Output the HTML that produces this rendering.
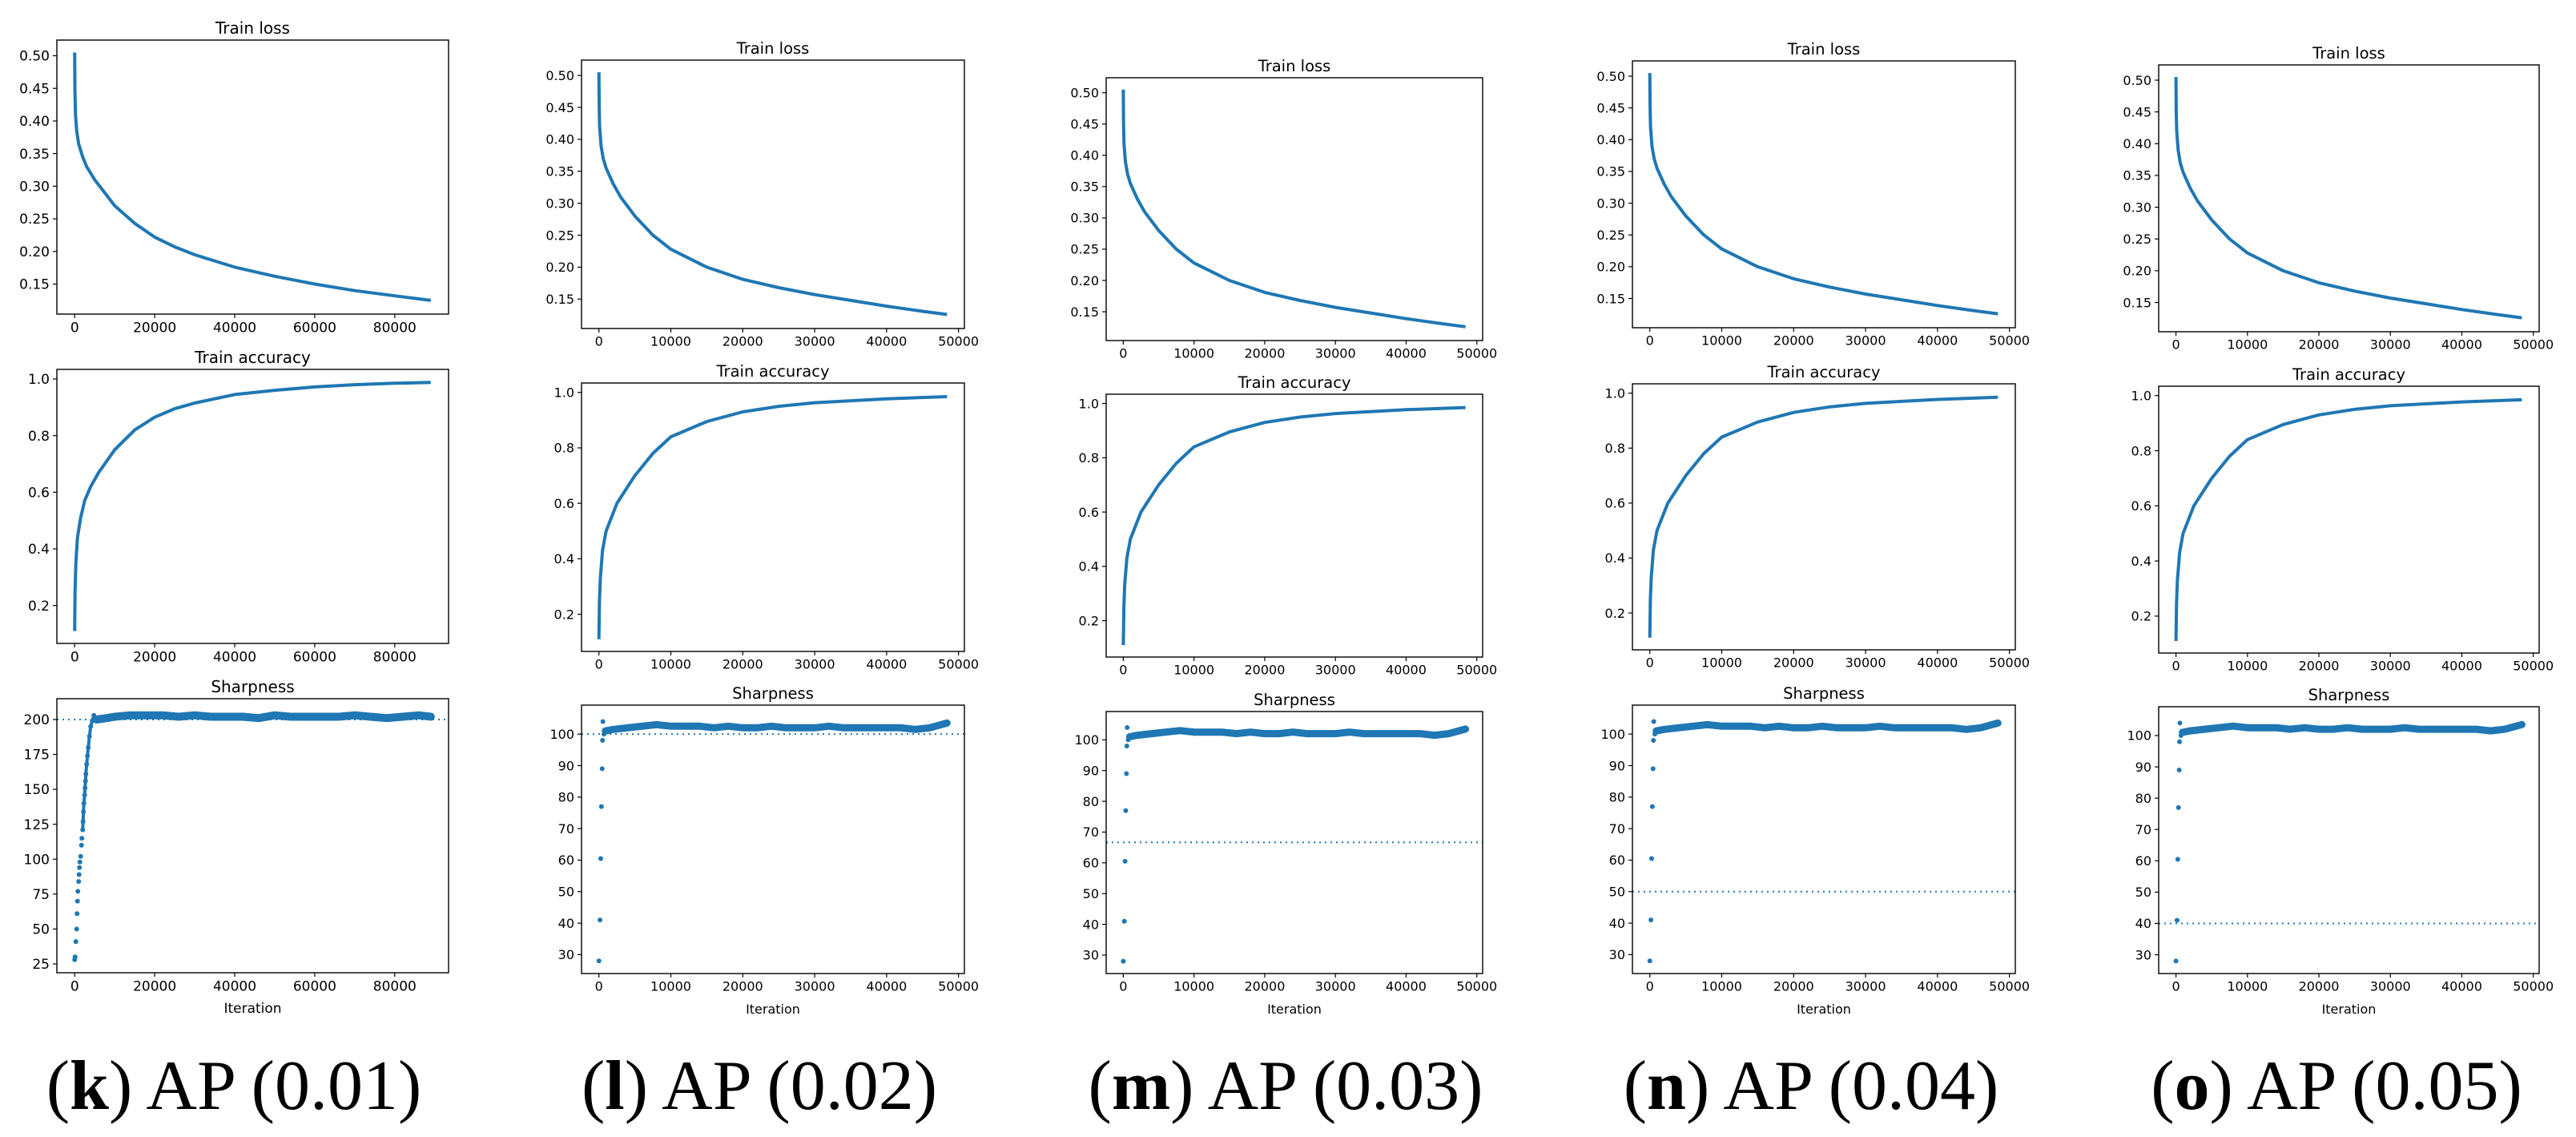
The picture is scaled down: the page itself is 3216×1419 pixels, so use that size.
<!DOCTYPE html>
<html><head><meta charset="utf-8"><style>
html,body{margin:0;padding:0;background:#fff;}
svg{display:block;}
</style></head><body>
<svg id="fig" xmlns="http://www.w3.org/2000/svg" width="3216" height="1419" viewBox="0 0 3216 1419"></svg>
<script>
// ---------- data ----------
const lossIterK = [0, 60, 200, 500, 1000, 2000, 3000, 5000, 7500, 10000, 15000, 20000, 25000, 30000, 40000, 50000, 60000, 70000, 80000, 89000];
const lossK     = [0.505, 0.45, 0.41, 0.385, 0.365, 0.345, 0.33, 0.31, 0.29, 0.27, 0.243, 0.222, 0.207, 0.195, 0.176, 0.162, 0.15, 0.14, 0.132, 0.125];
const lossIter48 = [0, 40, 100, 300, 600, 1000, 2000, 3000, 5000, 7500, 10000, 15000, 20000, 25000, 30000, 35000, 40000, 45000, 48400];
const loss48     = [0.505, 0.45, 0.42, 0.39, 0.37, 0.355, 0.33, 0.31, 0.28, 0.25, 0.228, 0.2, 0.181, 0.168, 0.157, 0.148, 0.139, 0.131, 0.126];
const accIterK = [0, 100, 300, 700, 1500, 2500, 4000, 6000, 8000, 10000, 15000, 20000, 25000, 30000, 40000, 50000, 60000, 70000, 80000, 89000];
const accK     = [0.11, 0.25, 0.35, 0.44, 0.51, 0.57, 0.62, 0.67, 0.71, 0.75, 0.82, 0.865, 0.895, 0.915, 0.945, 0.96, 0.972, 0.98, 0.985, 0.988];
const accIter48 = [0, 80, 200, 500, 1000, 2500, 5000, 7500, 10000, 15000, 20000, 25000, 30000, 40000, 48400];
const acc48     = [0.11, 0.25, 0.33, 0.43, 0.5, 0.6, 0.7, 0.78, 0.84, 0.895, 0.93, 0.95, 0.963, 0.977, 0.985];
const sharpRampIterK = [0, 100, 300, 500, 600, 700, 800, 1000, 1100, 1200, 1300, 1500, 1700, 1800, 2000, 2100, 2200, 2300, 2500, 2600, 2700, 2800, 3000, 3200, 3400, 3700, 4000, 4400, 4800];
const sharpRampK     = [28, 30, 41, 50, 61, 70, 77, 84, 89, 94, 98, 102, 110, 115, 121, 127, 134, 140, 146, 151, 156, 161, 168, 174, 180, 188, 195, 199, 203];
const sharpBandIterK = [5500, 8000, 10000, 14000, 18000, 22000, 26000, 30000, 34000, 38000, 42000, 46000, 50000, 54000, 58000, 62000, 66000, 70000, 74000, 78000, 82000, 86000, 89000];
const sharpBandK     = [200, 201, 202, 203, 203, 203, 202, 203, 202, 202, 202, 201, 203, 202, 202, 202, 202, 203, 202, 201, 202, 203, 202];
const sharpRampIter48 = [0, 150, 250, 350, 450, 500, 550, 700];
const sharpRamp48     = [28, 41, 60.5, 77, 89, 98, 104, 100];
const sharpBandIter48 = [900, 2000, 4000, 6000, 8000, 10000, 12000, 14000, 16000, 18000, 20000, 22000, 24000, 26000, 28000, 30000, 32000, 34000, 36000, 38000, 40000, 42000, 44000, 46000, 48400];
const sharpBand48     = [101, 101.5, 102, 102.5, 103, 102.5, 102.5, 102.5, 102, 102.5, 102, 102, 102.5, 102, 102, 102, 102.5, 102, 102, 102, 102, 102, 101.5, 102, 103.5];
const refLines = [200, 100, 66.67, 50, 40];
const captionLetters = ['k', 'l', 'm', 'n', 'o'];
const captionValues = ['0.01', '0.02', '0.03', '0.04', '0.05'];
const lossTicks = [0.15, 0.20, 0.25, 0.30, 0.35, 0.40, 0.45, 0.50];
const accTicks = [0.2, 0.4, 0.6, 0.8, 1.0];
const sharpTicksK = [25, 50, 75, 100, 125, 150, 175, 200];
const sharpTicks48 = [30, 40, 50, 60, 70, 80, 90, 100];
const xTicksK = [0, 20000, 40000, 60000, 80000];
const xTicks48 = [0, 10000, 20000, 30000, 40000, 50000];

// ---------- layout ----------
const cols = [
  {x0:71, x1:560, rows:[[50,392],[461,803],[872,1214]], cx:292, fs:17, ts:20, big:true},
  {x0:726, x1:1204, rows:[[75,410],[478,813],[880,1215]], cx:948, fs:16, ts:19.5},
  {x0:1381, x1:1851, rows:[[97,425],[492,820],[888,1215]], cx:1605, fs:16, ts:19.5},
  {x0:2038, x1:2516, rows:[[76,409],[479,811],[880,1215]], cx:2261, fs:16, ts:19.5},
  {x0:2695, x1:3170, rows:[[81,414],[482,815],[882,1215]], cx:2917, fs:16, ts:19.5}
];
const BLUE = '#1f77b4';
const NS = 'http://www.w3.org/2000/svg';
const svg = document.getElementById('fig');
function mk(tag, attrs, parent){
  const e = document.createElementNS(NS, tag);
  for (const k in attrs) e.setAttribute(k, attrs[k]);
  (parent||svg).appendChild(e);
  return e;
}
function linScale(d0, d1, r0, r1){ return v => r0 + (v - d0) * (r1 - r0) / (d1 - d0); }
function fmtTick(v, dec){ return v.toFixed(dec); }

cols.forEach((c, ci) => {
  const big = !!c.big;
  const xMax = big ? 89000 : 48400;
  const sx = linScale(-0.05*xMax, 1.05*xMax, c.x0, c.x1);
  const xTicks = big ? xTicksK : xTicks48;
  const panels = [
    {title:'Train loss', name:'train-loss', dom:[0.104, 0.524], ticks:lossTicks, dec:2},
    {title:'Train accuracy', name:'train-accuracy', dom:[0.066, 1.034], ticks:accTicks, dec:1},
    {title:'Sharpness', name:'sharpness', dom: big ? [18.7, 214.9] : [24.0, 109.2], ticks: big ? sharpTicksK : sharpTicks48, dec:0}
  ];
  const colG = mk('g', {});
  
  
  panels.forEach((p, pi) => {
    const [t, b] = c.rows[pi];
    const sy = linScale(p.dom[0], p.dom[1], b, t);
    const g = mk('g', {}, colG);
    
    
    const clipId = 'clip' + ci + '_' + pi;
    const cp = mk('clipPath', {id: clipId}, g);
    mk('rect', {x:c.x0, y:t, width:c.x1-c.x0, height:b-t}, cp);
    const tt = mk('text', {x:(c.x0+c.x1)/2, y:t-8, 'text-anchor':'middle', 'font-family':'DejaVu Sans, sans-serif', 'font-size':c.ts, fill:'#000'}, g);
    tt.textContent = p.title;
    
    
    const dg = mk('g', {'clip-path':'url(#'+clipId+')'}, g);
    if (pi < 2) {
      const xs = pi === 0 ? (big ? lossIterK : lossIter48) : (big ? accIterK : accIter48);
      const ys = pi === 0 ? (big ? lossK : loss48) : (big ? accK : acc48);
      const pts = xs.map((x, i) => sx(x).toFixed(1) + ',' + sy(ys[i]).toFixed(1)).join(' ');
      const pl = mk('polyline', {points:pts, fill:'none', stroke:BLUE, 'stroke-width':4, 'stroke-linejoin':'round', 'stroke-linecap':'butt'}, dg);
      
      
    } else {
      const ref = refLines[ci];
      const hl = mk('line', {x1:c.x0, x2:c.x1, y1:sy(ref), y2:sy(ref), stroke:BLUE, 'stroke-width':2, 'stroke-dasharray':'2,5'}, dg);
      
      
      const rx = big ? sharpRampIterK : sharpRampIter48;
      const ry = big ? sharpRampK : sharpRamp48;
      const bx = big ? sharpBandIterK : sharpBandIter48;
      const by = big ? sharpBandK : sharpBand48;
      const bandPts = bx.map((x, i) => sx(x).toFixed(1) + ',' + sy(by[i]).toFixed(1)).join(' ');
      const band = mk('polyline', {points:bandPts, fill:'none', stroke:BLUE, 'stroke-width': big ? 10 : 9, 'stroke-linejoin':'round', 'stroke-linecap':'round'}, dg);
      
      
      if (big) {
        const rampPts = rx.map((x, i) => sx(x).toFixed(1) + ',' + sy(ry[i]).toFixed(1)).join(' ');
        const rl = mk('polyline', {points:rampPts.split(' ').slice(14).join(' '), fill:'none', stroke:BLUE, 'stroke-width':4}, dg);
        
        
      }
      rx.forEach((x, i) => {
        const d = mk('circle', {cx:sx(x), cy:sy(ry[i]), r:3, fill:BLUE}, dg);
        
        
      });
      bx.forEach((x, i) => {
        const d = mk('circle', {cx:sx(x), cy:sy(by[i]), r:3, fill:BLUE}, dg);
        
        
      });
    }
    const fr = mk('rect', {x:c.x0, y:t, width:c.x1-c.x0, height:b-t, fill:'none', stroke:'#000', 'stroke-width':1.4}, g);
    
    
    p.ticks.forEach(v => {
      const y = sy(v);
      mk('line', {x1:c.x0-5, x2:c.x0, y1:y, y2:y, stroke:'#000', 'stroke-width':1.2}, g);
      const tx = mk('text', {x:c.x0-9, y:y + c.fs*0.36, 'text-anchor':'end', 'font-family':'DejaVu Sans, sans-serif', 'font-size':c.fs, fill:'#000'}, g);
      tx.textContent = fmtTick(v, p.dec);
      
      
    });
    xTicks.forEach(v => {
      const x = sx(v);
      mk('line', {x1:x, x2:x, y1:b, y2:b+5, stroke:'#000', 'stroke-width':1.2}, g);
      const tx = mk('text', {x:x, y:b + 8 + c.fs*0.85, 'text-anchor':'middle', 'font-family':'DejaVu Sans, sans-serif', 'font-size':c.fs, fill:'#000'}, g);
      tx.textContent = String(v);
      
      
    });
    if (pi === 2) {
      const xl = mk('text', {x:(c.x0+c.x1)/2, y:b + 50, 'text-anchor':'middle', 'font-family':'DejaVu Sans, sans-serif', 'font-size':c.fs, fill:'#000'}, g);
      xl.textContent = 'Iteration';
      
      
    }
  });
  const cap = mk('text', {x:c.cx, y:1384, 'text-anchor':'middle', 'font-family':'Liberation Serif, serif', 'font-size':88, fill:'#000'}, colG);
  
  
  const s1 = mk('tspan', {}, cap); s1.textContent = '(';
  const s2 = mk('tspan', {'font-weight':'bold'}, cap); s2.textContent = captionLetters[ci];
  const s3 = mk('tspan', {}, cap); s3.textContent = ') AP (' + captionValues[ci] + ')';
});
</script>
</body></html>
